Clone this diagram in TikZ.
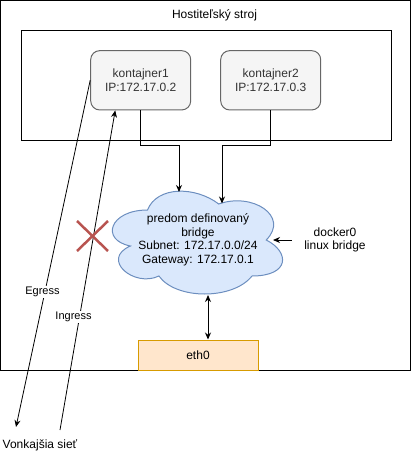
\documentclass[tikz,border=0pt]{standalone}
\usepackage{fontspec}
\setmainfont{Liberation Sans}
\usetikzlibrary{arrows.meta}
\definecolor{kfill}{HTML}{F5F5F5}
\definecolor{kdraw}{HTML}{666666}
\definecolor{ktext}{HTML}{333333}
\definecolor{cfill}{HTML}{DAE8FC}
\definecolor{cdraw}{HTML}{6C8EBF}
\definecolor{efill}{HTML}{FFE6CC}
\definecolor{edraw}{HTML}{D79B00}
\definecolor{xred}{HTML}{B85450}
\tikzset{
  base/.style={font=\fontsize{12}{13.6}\selectfont},
  small/.style={font=\fontsize{11}{12.6}\selectfont},
  kbox/.style={base, draw=kdraw, fill=kfill, text=ktext, rounded corners=9pt,
    minimum width=100pt, minimum height=59.3pt, align=center, inner sep=0pt, line width=1pt},
  ethbox/.style={base, draw=edraw, fill=efill, minimum width=120pt, minimum height=30pt,
    inner sep=0pt, line width=1pt},
  arr/.style={-{Stealth[length=7pt,width=6pt]}, line width=1pt},
  darr/.style={{Stealth[length=7pt,width=6pt]}-{Stealth[length=7pt,width=6pt]}, line width=1pt},
  lbl/.style={small, fill=white, inner sep=1pt},
  plain/.style={base, inner sep=0pt, align=center},
}
\begin{document}
\begin{tikzpicture}[x=1pt,y=-1pt]
\useasboundingbox (0,0) rectangle (411,461);
% host machine
\draw[line width=1pt] (0.5,0.5) rectangle (410,370);
\node[plain] (host) at (214.5,15) {Hostiteľský stroj};
\draw[line width=1pt] (21,30.5) rectangle (391,140);
% containers
\node[kbox] (k1) at (140.7,80.3) {kontajner1\\IP:172.17.0.2};
\node[kbox] (k2) at (270.7,80.3) {kontajner2\\IP:172.17.0.3};
% cloud
\draw[draw=cdraw, fill=cfill, line width=1pt]
  (147.5,210) .. controls (109.5,210) and (100,240) .. (130.4,246)
  .. controls (100,259.2) and (134.2,288) .. (158.9,276)
  .. controls (176,300) and (233,300) .. (252,276)
  .. controls (290,276) and (290,252) .. (266.25,240)
  .. controls (290,216) and (252,192) .. (218.75,204)
  .. controls (195,186) and (157,186) .. (147.5,210) -- cycle;
\node[plain] (bridge) at (198,240) {predom definovaný\\bridge\\Subnet: 172.17.0.0/24\\Gateway: 172.17.0.1};
\coordinate (cloudA) at (179,192);
\coordinate (cloudB) at (222,203.5);
\coordinate (cloudR) at (273,240);
\coordinate (cloudBot) at (208,295);
% eth0
\node[ethbox] (eth) at (198,355) {eth0};
% docker label
\node[plain, minimum width=86pt] (docker) at (335,240) {docker0\\linux bridge};
% connectors
\draw[arr] ([xshift=-0.7pt]k1.south) -- ++(0,35) -| (cloudA);
\draw[arr] ([xshift=-0.7pt]k2.south) -- ++(0,35) -| (cloudB);
\draw[arr] (docker.west) -- (cloudR);
\draw[darr] (cloudBot) -- ([xshift=10pt]eth.north);
% outside network
\node[plain] (net) at (40,445) {Vonkajšia sieť};
\coordinate (egEnd) at (16,427);
\coordinate (inStart) at (60,430);
\draw[arr, line width=0.8pt] (k1.west) -- (egEnd);
\draw[arr, line width=0.8pt] (inStart) -- ([xshift=25pt]k1.south west);
\node[lbl] (egress) at (42.5,292) {Egress};
\node[lbl] (ingress) at (73.5,317) {Ingress};
% red cross
\draw[xred, line width=2.5pt] (77,221) -- (108,251);
\draw[xred, line width=2.5pt] (77,251) -- (108,221);
\end{tikzpicture}
\end{document}
